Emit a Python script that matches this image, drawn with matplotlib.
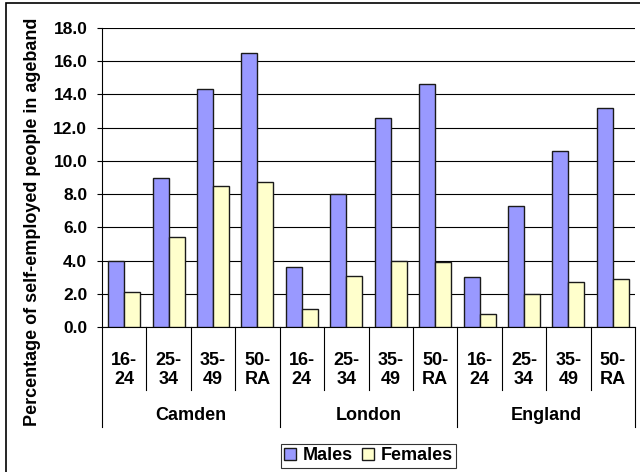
import matplotlib
matplotlib.use("Agg")
import matplotlib.pyplot as plt
import matplotlib.transforms as mtransforms
from matplotlib.patches import Rectangle

# data
groups = ["Camden", "London", "England"]
agebands = ["16-\n24", "25-\n34", "35-\n49", "50-\nRA"]
males = [4.0, 9.0, 14.3, 16.5,
         3.6, 8.0, 12.6, 14.6,
         3.0, 7.3, 10.6, 13.2]
females = [2.1, 5.4, 8.5, 8.7,
           1.1, 3.1, 4.0, 3.9,
           0.8, 2.0, 2.7, 2.9]
yticks = [0, 2, 4, 6, 8, 10, 12, 14, 16, 18]

plt.rcParams['font.family'] = ['Liberation Sans', 'DejaVu Sans']
plt.rcParams['font.weight'] = 'bold'
FS = 13

W, H = 640, 472
fig = plt.figure(figsize=(W / 100, H / 100), dpi=100)

def fy(py):
    return 1 - py / H

# plot area in pixels: left 102, right 635, top 28, bottom 327
ax = fig.add_axes([102 / W, fy(327), 533 / W, (327 - 28) / H])

n = len(males)
bw = 0.36
xs = [i + 0.5 for i in range(n)]
ax.bar([x - bw / 2 for x in xs], males, width=bw, color="#9999FF",
       edgecolor="#1a1a1a", linewidth=1.0, label="Males", zorder=3)
ax.bar([x + bw / 2 for x in xs], females, width=bw, color="#FFFFCC",
       edgecolor="#1a1a1a", linewidth=1.0, label="Females", zorder=3)

ax.set_xlim(0, n)
ax.set_ylim(0, 18)
ax.set_yticks(yticks)
ax.set_yticklabels([f"{v:.1f}" for v in yticks])
ax.yaxis.grid(True, color="black", linewidth=0.8)
ax.set_axisbelow(True)
ax.tick_params(axis="y", length=3.6, width=0.8, pad=7, labelsize=12.5)
ax.set_xticks([])
for s in ["top", "right"]:
    ax.spines[s].set_visible(False)
ax.spines["left"].set_linewidth(0.8)
ax.spines["bottom"].set_linewidth(0.8)

# multi-level category axis
trans = mtransforms.blended_transform_factory(ax.transData, fig.transFigure)
for i in range(n + 1):
    bottom = 427 if i % 4 == 0 else 390
    ax.plot([i, i], [fy(327), fy(bottom)], color="black", lw=0.8,
            transform=trans, clip_on=False)
for i, x in enumerate(xs):
    ax.text(x, fy(370), agebands[i % 4], transform=trans, ha="center",
            va="center", fontsize=FS, fontweight="bold", linespacing=1.1)
for g, name in enumerate(groups):
    ax.text(g * 4 + 2, fy(415), name, transform=trans, ha="center",
            va="center", fontsize=FS, fontweight="bold")

fig.text(33 / W, fy(222), "Percentage of self-employed people in ageband",
         rotation=90, ha="center", va="center", fontsize=13, fontweight="bold")

leg = fig.legend(loc="center", bbox_to_anchor=(368.5 / W, fy(456)), ncol=2,
                 frameon=True, fancybox=False, edgecolor="black",
                 handlelength=0.65, handleheight=0.65, handletextpad=0.35,
                 columnspacing=0.55, borderpad=0.2,
                 prop={"weight": "bold", "size": FS})
leg.get_frame().set_linewidth(0.8)

# chart border (runs off right and bottom edges)
fig.patches.append(Rectangle((6 / W, -0.1), 1.2, fy(3) + 0.1, fill=False,
                             edgecolor="black", linewidth=1.2,
                             transform=fig.transFigure))

fig.savefig("out.png", dpi=100)
